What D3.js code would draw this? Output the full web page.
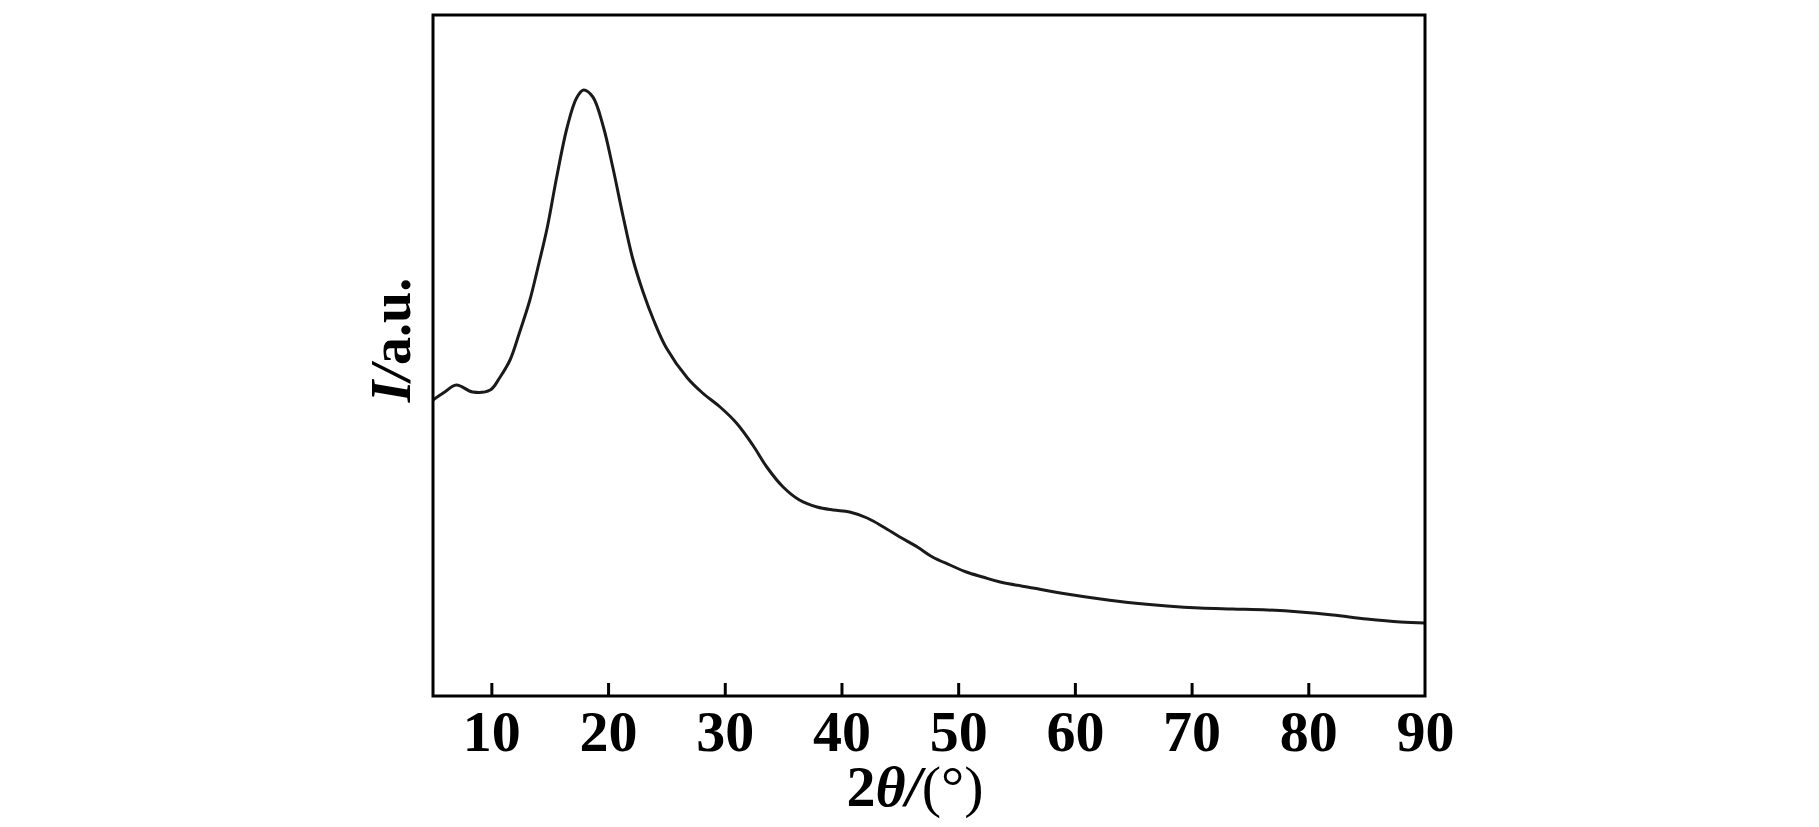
<!DOCTYPE html>
<html>
<head>
<meta charset="utf-8">
<script src="https://cdn.jsdelivr.net/npm/d3@7"></script>
<style>
  html, body { margin: 0; padding: 0; background: #fff; }
  svg { display: block; }
</style>
</head>
<body>
<svg id="chart" width="1819" height="827"></svg>
<script>
// Data (2θ in degrees, intensity in arbitrary units)
const twoTheta = [5.0, 6.0, 7.0, 8.4, 9.9, 10.7, 11.6, 12.4, 13.3, 14.0, 14.8, 15.6, 16.5, 17.3, 17.9,
  18.7, 19.6, 20.4, 21.3, 22.1, 23.0, 23.9, 25.0, 26.8, 28.1, 29.6, 31.0, 32.4, 33.6, 35.0, 36.4,
  37.9, 39.3, 40.7, 42.2, 43.6, 45.0, 46.5, 47.8, 49.3, 50.7, 52.1, 53.6, 56.4, 59.3, 62.2, 65.0,
  67.9, 70.7, 73.5, 76.5, 79.3, 82.1, 85.0, 87.9, 90.0];
const intensity = [296, 304, 311, 304, 306, 318, 336, 363, 396, 429, 469, 519, 569, 598, 606,
  599, 569, 529, 479, 438, 404, 376, 348, 318, 303, 289, 273, 251, 229, 209, 196,
  189, 186, 184, 178, 169, 159, 149, 139, 131, 124, 119, 114, 108, 102, 97, 93,
  90, 88, 87, 86, 84, 81, 77, 74, 73];
const xTicks = [10, 20, 30, 40, 50, 60, 70, 80, 90];
const xDomain = [5, 90];
const yDomain = [0, 681];

const svg = d3.select("#chart");
const mLeft = 433, mRight = 1425, mTop = 15, mBottom = 696;

const x = d3.scaleLinear().domain(xDomain).range([mLeft, mRight]);
const y = d3.scaleLinear().domain(yDomain).range([mBottom, mTop]);

const data = twoTheta.map((t, i) => ({ t, v: intensity[i] }));

// curve
const line = d3.line().x(d => x(d.t)).y(d => y(d.v)).curve(d3.curveCatmullRom.alpha(0.5));
svg.append("path")
  .datum(data)
  .attr("d", line)
  .attr("fill", "none")
  .attr("stroke", "#1a1a1a")
  .attr("stroke-width", 3)
  .attr("stroke-linejoin", "round");

// x axis: inward ticks with labels below
const xAxis = d3.axisBottom(x).tickValues(xTicks).tickSizeInner(-13).tickSizeOuter(0).tickPadding(14).tickFormat(d3.format("d"));
const gx = svg.append("g").attr("transform", `translate(0,${mBottom})`).call(xAxis);
gx.select(".domain").remove();
gx.selectAll(".tick line").attr("stroke", "#000").attr("stroke-width", 3)
  .filter(d => d === 90).remove();
gx.selectAll(".tick text")
  .attr("font-family", "'Liberation Serif', 'Times New Roman', serif")
  .attr("font-weight", "bold")
  .attr("font-size", 58)
  .attr("fill", "#000");

// frame
svg.append("rect")
  .attr("x", mLeft).attr("y", mTop)
  .attr("width", mRight - mLeft).attr("height", mBottom - mTop)
  .attr("fill", "none").attr("stroke", "#000").attr("stroke-width", 3);

// x title
const xt = svg.append("text")
  .attr("x", 915).attr("y", 806)
  .attr("text-anchor", "middle")
  .attr("font-family", "'Liberation Serif', 'Times New Roman', serif")
  .attr("font-size", 58)
  .attr("fill", "#000");
xt.append("tspan").attr("font-weight", "bold").text("2");
xt.append("tspan").attr("font-weight", "bold").attr("font-style", "italic").text("θ");
xt.append("tspan").attr("font-weight", "bold").attr("font-style", "italic").text("/");
xt.append("tspan").text("(°)");

// y title
const yt = svg.append("text")
  .attr("transform", `translate(410,340) rotate(-90)`)
  .attr("text-anchor", "middle")
  .attr("font-family", "'Liberation Serif', 'Times New Roman', serif")
  .attr("font-size", 56)
  .attr("font-weight", "bold")
  .attr("fill", "#000");
yt.append("tspan").attr("font-style", "italic").text("I");
yt.append("tspan").attr("font-style", "italic").text("/");
yt.append("tspan").text("a.u.");
</script>
</body>
</html>
